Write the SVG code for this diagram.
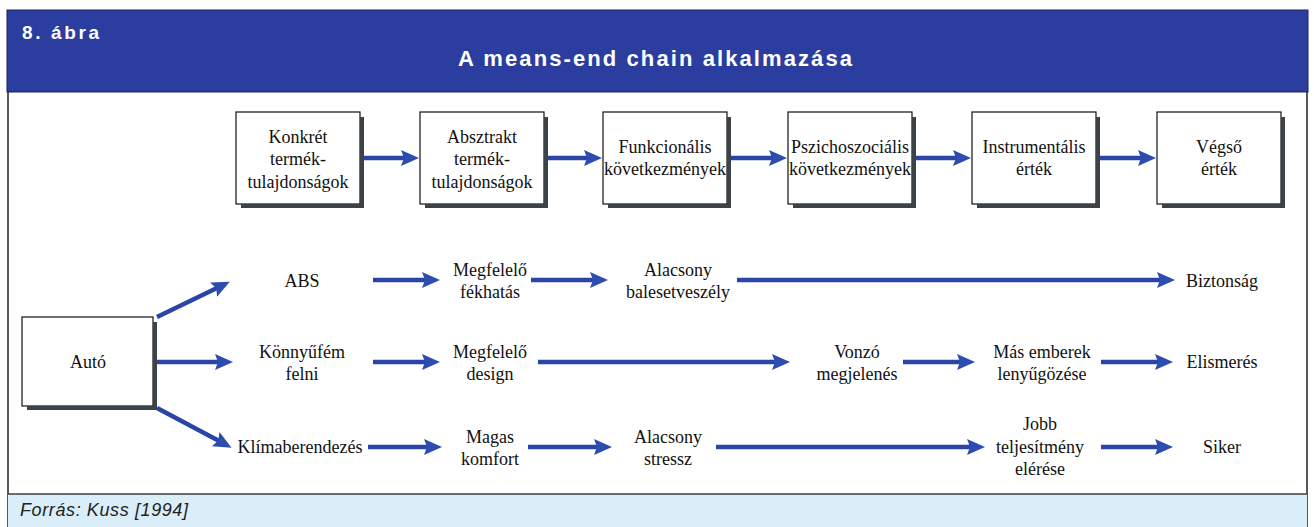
<svg xmlns="http://www.w3.org/2000/svg" width="1314" height="527" viewBox="0 0 1314 527">
<style>
.t{font-family:"Liberation Serif","Times New Roman",serif;font-size:18px;fill:#111;text-anchor:middle}
.box{fill:#fff;stroke:#111;stroke-width:1.2}
.sh{stroke:#3c4348;stroke-width:4;fill:none}
.ar{stroke:#2b45a6;stroke-width:4.5;fill:none;marker-end:url(#ah)}
.hd{font-family:"Liberation Sans",Arial,sans-serif;font-weight:bold;fill:#fff}
</style>
<defs>
<marker id="ah" markerUnits="userSpaceOnUse" markerWidth="20" markerHeight="18" refX="6" refY="8" orient="auto">
<path d="M0,0 L18,8 L0,16 L3,8 Z" fill="#2d4cb0"/>
</marker>
</defs>
<rect x="0" y="0" width="1314" height="527" fill="#fff"/>
<g id="header">
<rect x="7" y="10" width="1301" height="82" fill="#2b3d9f" stroke="#1c2560" stroke-width="1"/>
<text class="hd" x="22" y="39" font-size="19" textLength="77" lengthAdjust="spacing">8. ábra</text>
<text class="hd" x="458" y="66" font-size="22" textLength="394" lengthAdjust="spacing">A means-end chain alkalmazása</text>
</g>
<g id="frame">
<line x1="8" y1="92" x2="8" y2="527" stroke="#222" stroke-width="1.5"/>
<line x1="1307" y1="92" x2="1307" y2="527" stroke="#222" stroke-width="1.5"/>
</g>
<g id="footer">
<rect x="8" y="494" width="1299" height="33" fill="#d9eef8"/>
<line x1="8" y1="494" x2="1307" y2="494" stroke="#3a3f44" stroke-width="1.5"/>
<text x="20" y="516" font-family="Liberation Sans,Arial,sans-serif" font-style="italic" font-size="18" fill="#222" textLength="168" lengthAdjust="spacing">Forrás: Kuss [1994]</text>
</g>
<g id="n1"><rect class="box" x="236" y="112" width="124" height="92"/><path class="sh" d="M362,117 V206 H241"/>
<text class="t" x="298" y="143">Konkrét</text><text class="t" x="298" y="165">termék-</text><text class="t" x="298" y="188">tulajdonságok</text></g>
<g id="n2"><rect class="box" x="420" y="112" width="124" height="92"/><path class="sh" d="M546,117 V206 H425"/>
<text class="t" x="482" y="143">Absztrakt</text><text class="t" x="482" y="165">termék-</text><text class="t" x="482" y="188">tulajdonságok</text></g>
<g id="n3"><rect class="box" x="603" y="112" width="124" height="92"/><path class="sh" d="M729,117 V206 H608"/>
<text class="t" x="665" y="153">Funkcionális</text><text class="t" x="665" y="175">következmények</text></g>
<g id="n4"><rect class="box" x="788" y="112" width="124" height="92"/><path class="sh" d="M914,117 V206 H793"/>
<text class="t" x="850" y="153">Pszichoszociális</text><text class="t" x="850" y="175">következmények</text></g>
<g id="n5"><rect class="box" x="972" y="112" width="124" height="92"/><path class="sh" d="M1098,117 V206 H977"/>
<text class="t" x="1034" y="153">Instrumentális</text><text class="t" x="1034" y="175">érték</text></g>
<g id="n6"><rect class="box" x="1157" y="112" width="124" height="92"/><path class="sh" d="M1283,117 V206 H1162"/>
<text class="t" x="1219" y="153">Végső</text><text class="t" x="1219" y="175">érték</text></g>
<g id="auto"><rect class="box" x="22" y="317" width="131" height="89"/><path class="sh" d="M155,322 V408 H27"/>
<text class="t" x="88" y="368">Autó</text></g>
<g id="r1">
<text class="t" x="302" y="287">ABS</text>
<text class="t" x="490" y="276">Megfelelő</text><text class="t" x="490" y="298">fékhatás</text>
<text class="t" x="678" y="276">Alacsony</text><text class="t" x="678" y="298">balesetveszély</text>
<text class="t" x="1222" y="287">Biztonság</text>
</g>
<g id="r2">
<text class="t" x="302" y="358">Könnyűfém</text><text class="t" x="302" y="380">felni</text>
<text class="t" x="490" y="358">Megfelelő</text><text class="t" x="490" y="380">design</text>
<text class="t" x="857" y="358">Vonzó</text><text class="t" x="857" y="380">megjelenés</text>
<text class="t" x="1042" y="358">Más emberek</text><text class="t" x="1042" y="380">lenyűgözése</text>
<text class="t" x="1222" y="368">Elismerés</text>
</g>
<g id="r3">
<text class="t" x="300" y="453">Klímaberendezés</text>
<text class="t" x="490" y="443">Magas</text><text class="t" x="490" y="465">komfort</text>
<text class="t" x="668" y="443">Alacsony</text><text class="t" x="668" y="465">stressz</text>
<text class="t" x="1040" y="430">Jobb</text><text class="t" x="1040" y="453">teljesítmény</text><text class="t" x="1040" y="475">elérése</text>
<text class="t" x="1222" y="453">Siker</text>
</g>
<g id="connectors">
<line class="ar" x1="364" y1="158" x2="407" y2="158"/>
<line class="ar" x1="548" y1="158" x2="590" y2="158"/>
<line class="ar" x1="731" y1="158" x2="775" y2="158"/>
<line class="ar" x1="916" y1="158" x2="959" y2="158"/>
<line class="ar" x1="1100" y1="158" x2="1144" y2="158"/>
<line class="ar" x1="157" y1="317" x2="219" y2="287"/>
<line class="ar" x1="157" y1="362" x2="221" y2="362"/>
<line class="ar" x1="157" y1="408" x2="221" y2="442"/>
<line class="ar" x1="373" y1="280" x2="428" y2="280"/>
<line class="ar" x1="531" y1="280" x2="596" y2="280"/>
<line class="ar" x1="737" y1="280" x2="1163" y2="280"/>
<line class="ar" x1="373" y1="362" x2="428" y2="362"/>
<line class="ar" x1="538" y1="362" x2="778" y2="362"/>
<line class="ar" x1="903" y1="362" x2="963" y2="362"/>
<line class="ar" x1="1101" y1="362" x2="1161" y2="362"/>
<line class="ar" x1="368" y1="447" x2="430" y2="447"/>
<line class="ar" x1="528" y1="447" x2="600" y2="447"/>
<line class="ar" x1="716" y1="447" x2="973" y2="447"/>
<line class="ar" x1="1101" y1="447" x2="1161" y2="447"/>
</g>
</svg>
